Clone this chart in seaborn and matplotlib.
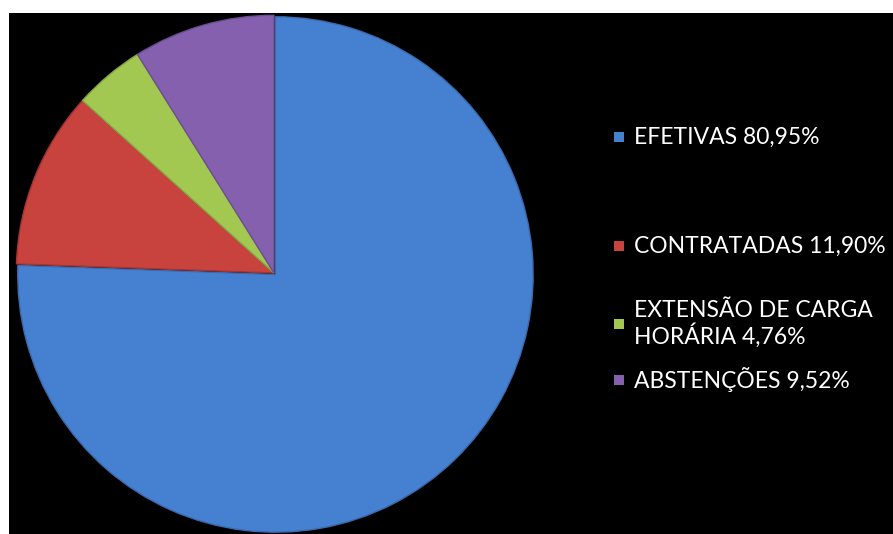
import matplotlib
matplotlib.use("Agg")
import matplotlib.pyplot as plt
import seaborn as sns
from matplotlib.patches import Rectangle

sns.set_theme(style="white")
plt.rcParams['font.family'] = ['Lato', 'DejaVu Sans']

categories = ["EFETIVAS", "CONTRATADAS", "EXTENSÃO DE CARGA\nHORÁRIA", "ABSTENÇÕES"]
values = [80.95, 11.90, 4.76, 9.52]
value_labels = ["80,95%", "11,90%", "4,76%", "9,52%"]
colors = ["#4680D0", "#C8423E", "#A3C852", "#8460AE"]
edge_colors = ["#3A6BAE", "#A53533", "#86A644", "#6C4F90"]

W, H = 893, 534
fig = plt.figure(figsize=(W / 100, H / 100), dpi=100, facecolor="white")

# black chart area
bg = fig.add_axes([9 / W, -0.02, 1.05, (H - 13) / H + 0.02])
bg.set_facecolor("black")
bg.set_xticks([]); bg.set_yticks([])
for s in bg.spines.values():
    s.set_visible(False)

# pie
cx, cy, r = 274, 273, 259
ax = fig.add_axes([(cx - r) / W, (H - cy - r) / H, 2 * r / W, 2 * r / H])
ax.set_facecolor("none")
wedges, _ = ax.pie(values, colors=colors, startangle=90, counterclock=False,
                   explode=[0.008, 0, 0, 0], radius=0.995,
                   wedgeprops=dict(linewidth=1.0))
for w, ec in zip(wedges, edge_colors):
    w.set_edgecolor(ec)
ax.set_xlim(-1, 1); ax.set_ylim(-1, 1)
ax.axis("off")

# legend
ys = [137, 246, 324, 380]
for cat, lab, col, y in zip(categories, value_labels, colors, ys):
    fig.patches.append(Rectangle((614 / W, (H - y - 5) / H), 10 / W, 10 / H,
                                 transform=fig.transFigure, facecolor=col,
                                 edgecolor="none"))
    fig.text(634 / W, (H - y) / H, f"{cat} {lab}", color="white",
             fontsize=16.5, va="center", ha="left", linespacing=1.12)

fig.savefig("out.png", dpi=100, facecolor="white")
